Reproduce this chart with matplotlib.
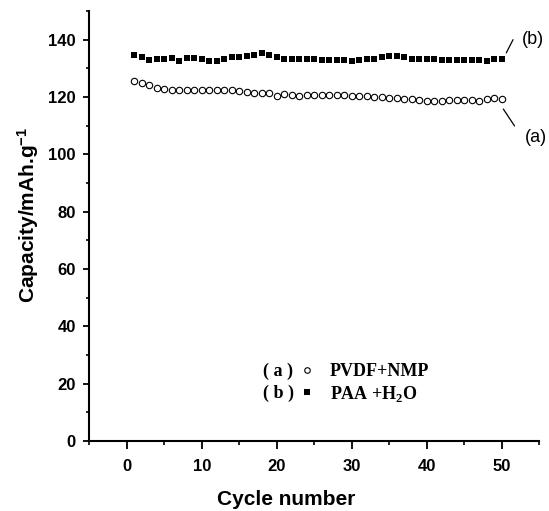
import matplotlib
matplotlib.use("Agg")
import matplotlib.pyplot as plt
from matplotlib.ticker import MultipleLocator
from matplotlib.lines import Line2D

cycles = list(range(1, 51))
cap_a = [125.7, 124.8, 124.2, 123.3, 122.7, 122.3, 122.3, 122.5, 122.5, 122.5,
         122.5, 122.3, 122.3, 122.3, 122.0, 121.8, 121.5, 121.5, 121.3, 120.5,
         121.0, 120.6, 120.3, 120.8, 120.8, 120.8, 120.8, 120.8, 120.8, 120.5,
         120.3, 120.2, 120.0, 120.0, 119.8, 119.6, 119.4, 119.2, 119.0, 118.7,
         118.6, 118.7, 118.8, 118.8, 118.9, 118.9, 118.7, 119.3, 119.5, 119.3]
cap_b = [134.5, 133.8, 132.8, 133.4, 133.4, 133.5, 132.7, 133.5, 133.5, 133.2,
         132.5, 132.5, 133.3, 134.0, 134.0, 134.3, 134.8, 135.2, 134.8, 133.8,
         133.2, 133.2, 133.2, 133.2, 133.1, 133.0, 133.0, 132.8, 132.8, 132.7,
         133.0, 133.2, 133.4, 133.8, 134.3, 134.3, 134.0, 133.2, 133.2, 133.2,
         133.2, 133.0, 133.0, 133.0, 133.0, 133.0, 132.9, 132.5, 133.4, 133.4]
label_a = "PVDF+NMP"
label_b = "PAA +H$_\\mathbf{2}$O"
prefix_a = "( a )"
prefix_b = "( b )"

plt.rcParams['font.family'] = ['Liberation Sans', 'DejaVu Sans']
plt.rcParams['mathtext.fontset'] = 'custom'
plt.rcParams['mathtext.rm'] = 'Liberation Sans:bold'
plt.rcParams['mathtext.it'] = 'Liberation Sans:bold'
plt.rcParams['mathtext.bf'] = 'Liberation Serif:bold'

fig = plt.figure(figsize=(5.49, 5.11), dpi=100)
ax = fig.add_axes([89.3 / 549, 1 - 441 / 511, 450 / 549, 430 / 511])

ax.plot(cycles, cap_b, linestyle='none', marker='s', markersize=4.6,
        color='black', markeredgewidth=0)
ax.plot(cycles, cap_a, linestyle='none', marker='o', markersize=4.6,
        markerfacecolor='white', markeredgecolor='black', markeredgewidth=0.8)

ax.set_xlim(-5, 55)
ax.set_ylim(0, 150)
ax.xaxis.set_major_locator(MultipleLocator(10))
ax.xaxis.set_minor_locator(MultipleLocator(5))
ax.yaxis.set_major_locator(MultipleLocator(20))
ax.yaxis.set_minor_locator(MultipleLocator(10))
for s in ['top', 'right']:
    ax.spines[s].set_visible(False)
for s in ['left', 'bottom']:
    ax.spines[s].set_linewidth(1.5)
ax.tick_params(axis='x', which='major', direction='out', length=5.8, width=1.3,
               labelsize=12, pad=7)
ax.tick_params(axis='x', which='minor', direction='out', length=2.9, width=1.2)
ax.tick_params(axis='y', which='major', direction='out', length=4.3, width=1.3,
               labelsize=12, pad=5.5)
ax.tick_params(axis='y', which='minor', direction='out', length=2.2, width=1.2)
for t in ax.get_xticklabels() + ax.get_yticklabels():
    t.set_fontweight('bold')

ax.set_xlabel("Cycle number", fontsize=15, fontweight='bold')
ax.set_ylabel("Capacity/mAh.g$^{-1}$", fontsize=15, fontweight='bold')
ax.xaxis.set_label_coords(0.437, -0.135)
ax.xaxis.label.set_va('center')
ax.yaxis.set_label_coords(-0.136, 0.526)
ax.yaxis.label.set_va('center')

# annotations
ax.text(52.7, 140.0, "(b)", fontsize=13, ha='left', va='center')
ax.annotate("", xy=(50.6, 135.4), xytext=(51.5, 140.0),
            arrowprops=dict(arrowstyle='-', color='black', lw=0.9,
                            shrinkA=0, shrinkB=0))
ax.text(53.1, 105.8, "(a)", fontsize=13, ha='left', va='center')
ax.annotate("", xy=(50.2, 115.8), xytext=(51.7, 109.9),
            arrowprops=dict(arrowstyle='-', color='black', lw=0.9,
                            shrinkA=0, shrinkB=0))

# legend
handles = [Line2D([], [], linestyle='none', marker='o', markersize=4,
                  markerfacecolor='white', markeredgecolor='black',
                  markeredgewidth=0.8),
           Line2D([], [], linestyle='none', marker='s', markersize=4.3,
                  color='black', markeredgewidth=0)]
leg = ax.legend(handles, [label_a, label_b], loc='center left',
                bbox_to_anchor=(0.464, 0.134), frameon=False,
                prop={'family': 'Liberation Serif', 'weight': 'bold', 'size': 13},
                handlelength=1.0, handletextpad=0.75, labelspacing=0.2,
                borderpad=0, borderaxespad=0)

fig.canvas.draw()
inv = ax.transAxes.inverted()
for txt, pre in zip(leg.get_texts(), [prefix_a, prefix_b]):
    bb = txt.get_window_extent()
    yc = inv.transform((0, (bb.y0 + bb.y1) / 2))[1]
    ax.text(0.386, yc, pre, transform=ax.transAxes, fontsize=13,
            fontweight='bold', family='Liberation Serif', va='center')

fig.savefig("out.png", dpi=100)
